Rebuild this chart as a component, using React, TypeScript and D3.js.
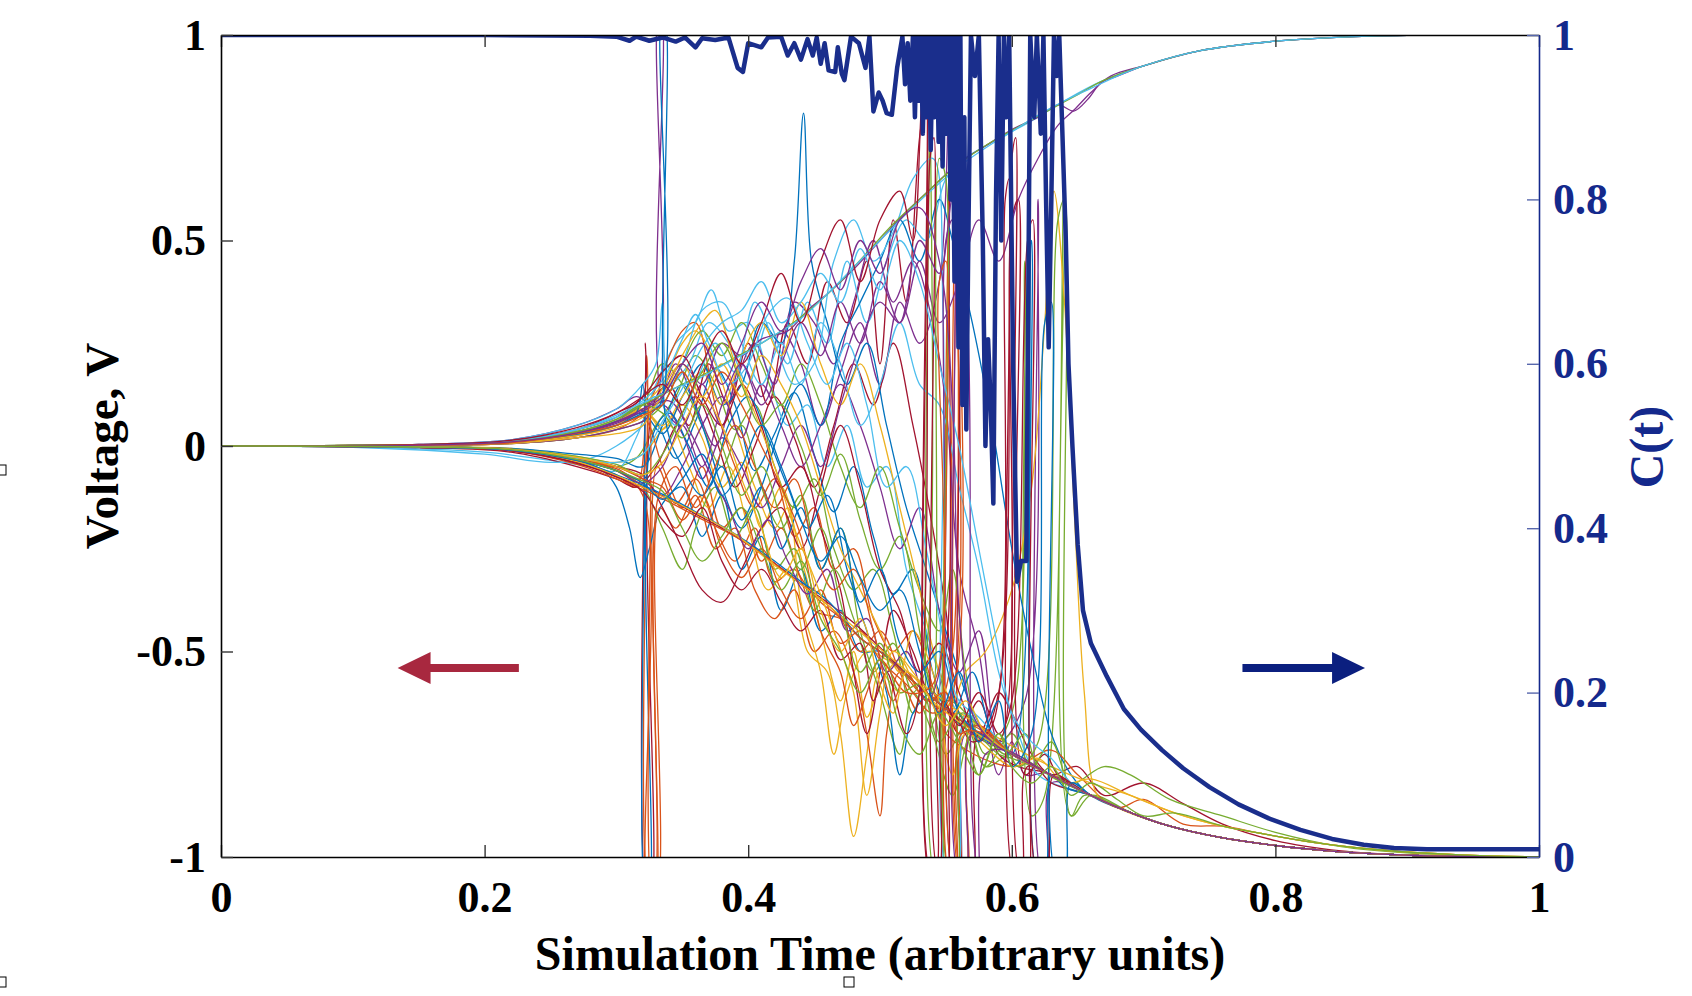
import React, { useEffect, useRef } from 'react';
import * as d3 from 'd3';

type Pt = [number, number];

// ticks
const voltTicks = [-1, -0.5, 0, 0.5, 1];
const cTicks = [0, 0.2, 0.4, 0.6, 0.8, 1];
const timeTicks = [0, 0.2, 0.4, 0.6, 0.8, 1];

// coherence C(t), right axis
const coherence: Pt[] = [
  [0, 1], [0.2, 1], [0.28, 0.999], [0.3, 0.998], [0.31, 0.993], [0.315, 0.998], [0.325, 0.993],
  [0.335, 0.997], [0.345, 0.992], [0.352, 0.997], [0.36, 0.985], [0.365, 0.996], [0.375, 0.994],
  [0.385, 0.997], [0.392, 0.96], [0.396, 0.955], [0.4, 0.99], [0.41, 0.985], [0.415, 0.997],
  [0.425, 0.998], [0.43, 0.975], [0.435, 0.99], [0.44, 0.97], [0.445, 0.995], [0.449, 0.975],
  [0.452, 0.997], [0.455, 0.965], [0.458, 0.99], [0.461, 0.957], [0.466, 0.955], [0.468, 0.985],
  [0.471, 0.953], [0.473, 0.945], [0.478, 0.998], [0.484, 0.99], [0.489, 0.96], [0.492, 0.998],
  [0.495, 0.907], [0.499, 0.93], [0.502, 0.92], [0.505, 0.905], [0.509, 0.903], [0.513, 0.96],
  [0.517, 0.998], [0.519, 0.94], [0.521, 0.99], [0.523, 0.92], [0.525, 1], [0.5265, 0.9], [0.528, 1],
  [0.5295, 0.92], [0.531, 1], [0.5325, 0.88], [0.534, 1], [0.5355, 0.9], [0.537, 1], [0.5385, 0.86],
  [0.54, 1], [0.5415, 0.9], [0.543, 1], [0.5445, 0.87], [0.546, 1], [0.5475, 0.84], [0.549, 1],
  [0.5505, 0.88], [0.552, 1], [0.5535, 0.8], [0.555, 1], [0.5565, 0.7], [0.558, 1], [0.5595, 0.62],
  [0.561, 1], [0.5625, 0.55], [0.564, 0.9], [0.5655, 0.52], [0.567, 0.75], [0.569, 1],
  [0.572, 0.95], [0.575, 1], [0.578, 0.75], [0.58, 0.5], [0.582, 0.63], [0.584, 0.55], [0.586, 0.43],
  [0.588, 0.8], [0.59, 1], [0.592, 0.75], [0.594, 1], [0.596, 0.9], [0.598, 1], [0.601, 0.6],
  [0.604, 0.335], [0.607, 0.36], [0.611, 0.36], [0.614, 1], [0.617, 0.9], [0.619, 1], [0.622, 0.88],
  [0.624, 1], [0.626, 0.8], [0.628, 0.62], [0.63, 0.8], [0.632, 1], [0.634, 0.95], [0.636, 1],
  [0.638, 0.9], [0.641, 0.75], [0.643, 0.6], [0.646, 0.5], [0.65, 0.38], [0.654, 0.3], [0.66, 0.26],
  [0.672, 0.22], [0.685, 0.18], [0.698, 0.155], [0.714, 0.13], [0.73, 0.108], [0.75, 0.085],
  [0.772, 0.064], [0.795, 0.047], [0.819, 0.033], [0.843, 0.022], [0.867, 0.015], [0.89, 0.011],
  [0.915, 0.0095], [1, 0.0095]
];

// branches the runs settle onto
const upperBranch: Pt[] = [
  [0.2, 0.005], [0.25, 0.02], [0.28, 0.045], [0.3, 0.07], [0.333, 0.12], [0.36, 0.165], [0.389, 0.21],
  [0.41, 0.255], [0.439, 0.31], [0.465, 0.385], [0.49, 0.47], [0.51, 0.54], [0.53, 0.6], [0.548, 0.655],
  [0.58, 0.73], [0.616, 0.793], [0.64, 0.84], [0.667, 0.886], [0.7, 0.925], [0.743, 0.962], [0.8, 0.985],
  [0.85, 0.995], [0.9, 0.999], [1, 1]
];
const lowerBranch: Pt[] = [
  [0.2, -0.005], [0.25, -0.025], [0.28, -0.05], [0.3, -0.075], [0.323, -0.105], [0.333, -0.12],
  [0.36, -0.16], [0.389, -0.21], [0.405, -0.25], [0.439, -0.334], [0.465, -0.4], [0.486, -0.47],
  [0.5, -0.5], [0.528, -0.58], [0.564, -0.674], [0.6, -0.75], [0.627, -0.796], [0.66, -0.85],
  [0.691, -0.893], [0.72, -0.925], [0.756, -0.951], [0.8, -0.972], [0.84, -0.985], [0.88, -0.993],
  [0.93, -0.998], [1, -1]
];
const lowerSlow: Pt[] = [
  [0.66, -0.81], [0.69, -0.85], [0.724, -0.893], [0.76, -0.925], [0.788, -0.942], [0.83, -0.965],
  [0.88, -0.983], [0.94, -0.995], [1, -1]
];

// individual voltage runs (t, V)
const voltageRuns: Pt[][] = [
  [[0,0],[0.15,0.003],[0.22,0.01],[0.27,0.035],[0.3,0.06],[0.315,0.09],[0.33,0.06],[0.345,-0.03],[0.36,0.06],[0.375,0.19],[0.39,0.1],[0.405,-0.06],[0.42,0.03],[0.435,0.13],[0.45,-0.02],[0.465,-0.16],[0.48,-0.05],[0.495,-0.22],[0.51,-0.36],[0.525,-0.3],[0.54,-0.55],[0.555,-0.66]],
  [[0,0],[0.15,-0.003],[0.22,-0.012],[0.27,-0.04],[0.3,-0.07],[0.315,-0.1],[0.323,0.22],[0.325,-1.1],[0.328,-1.1],[0.331,-0.05],[0.345,-0.14],[0.36,-0.08],[0.375,-0.2],[0.39,-0.28],[0.405,-0.2],[0.42,-0.33],[0.435,-0.3],[0.45,-0.4],[0.47,-0.42]],
  [[0,0],[0.15,0.002],[0.22,0.008],[0.27,0.025],[0.3,0.05],[0.32,0.09],[0.335,0.04],[0.35,0.1],[0.365,0.02],[0.38,-0.1],[0.395,-0.04],[0.41,-0.2],[0.425,-0.1],[0.44,-0.27],[0.455,-0.45],[0.47,-0.62],[0.48,-0.5],[0.49,-0.66],[0.5,-0.58],[0.515,-0.52],[0.53,-0.6]],
  [[0,0],[0.15,0.002],[0.22,0.01],[0.27,0.03],[0.3,0.06],[0.32,0.1],[0.3305,0.12],[0.332,1.05],[0.334,1.05],[0.3355,0.1],[0.35,0.05],[0.365,0.15],[0.38,0.05],[0.395,0.2],[0.41,0.12],[0.425,0.28],[0.44,0.2],[0.455,0.05],[0.47,0.18],[0.485,0.3],[0.5,0.15],[0.515,0.35],[0.53,0.25],[0.545,0.4],[0.553,0.9],[0.556,-1.05],[0.56,-1.05],[0.565,-0.7],[0.58,-0.72]],
  [[0,0],[0.15,-0.002],[0.22,-0.008],[0.27,-0.03],[0.3,-0.05],[0.315,-0.03],[0.33,0.05],[0.345,0.12],[0.36,0.22],[0.375,0.15],[0.39,0.04],[0.405,0.1],[0.42,-0.05],[0.435,-0.15],[0.45,-0.08],[0.465,-0.25],[0.48,-0.35],[0.495,-0.3],[0.51,-0.45],[0.525,-0.65],[0.535,-0.55],[0.55,-0.75],[0.565,-0.68],[0.58,-0.78],[0.6,-0.75]],
  [[0,0],[0.1,-0.002],[0.2,-0.015],[0.25,-0.035],[0.28,-0.05],[0.3,-0.06],[0.315,0.02],[0.33,0.15],[0.345,0.25],[0.36,0.3],[0.372,0.38],[0.385,0.28],[0.4,0.3],[0.415,0.18],[0.43,0.05],[0.445,0.1],[0.46,-0.05],[0.475,0.05],[0.49,-0.1],[0.505,-0.05],[0.52,-0.3],[0.535,-0.45],[0.55,-0.6],[0.565,-0.67]],
  [[0,0],[0.15,0.003],[0.22,0.012],[0.27,0.04],[0.3,0.08],[0.32,0.12],[0.322,0.25],[0.3235,-1.1],[0.326,-1.1],[0.328,0.1],[0.34,0.15],[0.355,0.05],[0.37,0.2],[0.385,0.1],[0.4,0.25],[0.415,0.1],[0.43,0.3],[0.445,0.2],[0.46,0.4],[0.475,0.3],[0.49,0.45],[0.5,0.2],[0.51,0.55],[0.52,0.35],[0.53,0.75],[0.535,0.85],[0.538,-1.05],[0.542,-1.05],[0.545,-0.6],[0.56,-0.7],[0.575,-0.62],[0.59,-0.75],[0.605,-0.78]],
  [[0,0],[0.15,-0.003],[0.22,-0.01],[0.27,-0.035],[0.29,-0.06],[0.3,-0.1],[0.31,-0.2],[0.318,-0.32],[0.325,-0.25],[0.335,-0.14],[0.35,-0.1],[0.365,-0.22],[0.38,-0.12],[0.395,-0.3],[0.41,-0.22],[0.425,-0.4],[0.44,-0.3],[0.455,-0.45],[0.47,-0.4],[0.485,-0.5]],
  [[0,0],[0.15,0.002],[0.22,0.006],[0.27,0.02],[0.3,0.04],[0.32,0.08],[0.335,0.18],[0.35,0.28],[0.36,0.3],[0.375,0.1],[0.39,-0.05],[0.405,-0.15],[0.42,-0.08],[0.435,-0.22],[0.45,-0.15],[0.465,-0.3],[0.48,-0.25],[0.495,-0.42],[0.51,-0.5],[0.525,-0.45],[0.545,-0.62],[0.555,-0.5],[0.558,0.9],[0.561,-1.05],[0.565,-1.05],[0.57,-0.68]],
  [[0,0],[0.15,-0.002],[0.22,-0.006],[0.27,-0.025],[0.3,-0.04],[0.32,-0.02],[0.34,0.05],[0.355,-0.05],[0.37,-0.15],[0.385,-0.05],[0.4,-0.2],[0.415,-0.35],[0.43,-0.3],[0.445,-0.5],[0.46,-0.55],[0.47,-0.7],[0.48,-0.95],[0.49,-0.75],[0.5,-0.55],[0.515,-0.6],[0.53,-0.58]],
  [[0,0],[0.15,0.004],[0.22,0.015],[0.27,0.05],[0.3,0.09],[0.315,0.12],[0.33,0.1],[0.345,0.2],[0.36,0.1],[0.375,0],[0.39,0.15],[0.405,0.25],[0.42,0.15],[0.435,0.35],[0.45,0.3],[0.465,0.2],[0.48,0.35],[0.495,0.5],[0.51,0.35],[0.525,0.45],[0.54,0.3],[0.55,0.1],[0.56,-0.3],[0.575,-0.5],[0.59,-0.8],[0.6,-0.72],[0.61,-0.8]],
  [[0,0],[0.15,0.003],[0.22,0.01],[0.27,0.03],[0.3,0.06],[0.32,0.1],[0.335,0.2],[0.35,0.15],[0.365,0.05],[0.38,-0.05],[0.395,0.05],[0.41,-0.1],[0.425,-0.2],[0.44,-0.12],[0.455,-0.3],[0.47,-0.2],[0.485,-0.45],[0.5,-0.6],[0.515,-0.75],[0.525,-0.6],[0.54,-0.7],[0.555,-0.85],[0.57,-0.7],[0.59,-0.75],[0.6,-0.76]],
  [[0,0],[0.15,0.004],[0.22,0.015],[0.27,0.05],[0.3,0.09],[0.32,0.15],[0.33,0.2],[0.335,0.35],[0.34,0.15],[0.355,0.2],[0.37,0.3],[0.385,0.25],[0.4,0.15],[0.415,0.3],[0.43,0.2],[0.445,0.35],[0.46,0.25],[0.475,0.45],[0.49,0.3],[0.505,0.45],[0.52,0.55],[0.535,0.5],[0.55,0.65],[0.565,0.7],[0.58,0.73]],
  [[0,0],[0.15,-0.004],[0.22,-0.015],[0.27,-0.05],[0.3,-0.08],[0.315,-0.1],[0.33,-0.05],[0.345,0.05],[0.36,0.12],[0.375,0.02],[0.39,-0.1],[0.405,0],[0.42,0.12],[0.435,0.02],[0.45,-0.1],[0.465,0.05],[0.48,0.2],[0.495,0.1],[0.51,0.25],[0.525,0.05],[0.54,-0.2],[0.55,-0.4],[0.56,-0.65],[0.575,-0.7],[0.59,-0.6],[0.6,-0.65],[0.615,-0.75],[0.63,-0.8],[0.65,-0.78],[0.67,-0.85],[0.7,-0.82],[0.73,-0.87],[0.76,-0.92],[0.8,-0.96],[0.85,-0.985],[0.9,-0.995],[1,-1]],
  [[0,0],[0.15,0.002],[0.22,0.008],[0.27,0.03],[0.3,0.05],[0.32,0.08],[0.335,0.03],[0.35,0.12],[0.365,0.2],[0.38,0.1],[0.395,0.15],[0.41,0.3],[0.425,0.25],[0.435,0.45],[0.442,0.81],[0.448,0.45],[0.46,0.3],[0.475,0.15],[0.49,0.25],[0.505,0.05],[0.52,-0.15],[0.535,-0.3],[0.55,-0.45],[0.565,-0.6],[0.58,-0.7]],
  [[0,0],[0.15,-0.003],[0.22,-0.01],[0.27,-0.03],[0.3,-0.06],[0.32,-0.12],[0.325,-1.1],[0.33,-1.1],[0.333,-0.15],[0.345,-0.2],[0.36,-0.12],[0.375,-0.25],[0.39,-0.2],[0.405,-0.35],[0.42,-0.42],[0.435,-0.35],[0.45,-0.5],[0.465,-0.45],[0.48,-0.55],[0.49,-0.7],[0.5,-0.9],[0.505,-0.7],[0.515,-0.55],[0.53,-0.6],[0.55,-0.64],[0.553,0.85],[0.556,-1.05],[0.56,-1.05],[0.565,-0.68]],
  [[0,0],[0.15,0.003],[0.22,0.01],[0.27,0.035],[0.3,0.06],[0.32,0.1],[0.335,0.15],[0.35,0.25],[0.36,0.28],[0.375,0.2],[0.39,0.05],[0.405,-0.1],[0.42,-0.2],[0.43,-0.15],[0.44,-0.38],[0.455,-0.55],[0.465,-0.75],[0.475,-0.6],[0.49,-0.5],[0.505,-0.52]],
  [[0,0],[0.15,-0.002],[0.22,-0.008],[0.27,-0.03],[0.3,-0.05],[0.32,-0.08],[0.335,-0.12],[0.35,-0.05],[0.365,0.05],[0.38,0.12],[0.395,0.02],[0.41,0.15],[0.425,0.05],[0.44,-0.05],[0.455,0.05],[0.47,0.15],[0.485,0.05],[0.5,-0.1],[0.515,-0.25],[0.53,-0.15],[0.545,-0.4],[0.56,-0.55],[0.575,-0.45],[0.59,-0.72],[0.61,-0.62],[0.62,0.6],[0.623,-1.05],[0.627,-1.05],[0.63,-0.82]],
  [[0,0],[0.15,0.002],[0.22,0.006],[0.27,0.02],[0.3,0.04],[0.32,0.06],[0.335,0.1],[0.35,0.2],[0.365,0.28],[0.38,0.22],[0.395,0.3],[0.41,0.2],[0.425,0.1],[0.44,0.2],[0.455,0.1],[0.47,-0.05],[0.485,-0.15],[0.5,-0.05],[0.515,-0.2],[0.53,-0.35],[0.545,-0.45],[0.555,-0.3],[0.565,-0.55],[0.58,-0.75],[0.6,-0.65],[0.61,0.45],[0.615,-0.9],[0.625,-0.85],[0.64,0.65],[0.645,-0.9],[0.66,-0.85]],
  [[0,0],[0.1,-0.003],[0.2,-0.02],[0.25,-0.04],[0.28,-0.03],[0.3,0],[0.32,0.05],[0.335,0.12],[0.35,0.2],[0.365,0.33],[0.38,0.35],[0.395,0.25],[0.41,0.15],[0.425,0.25],[0.44,0.15],[0.455,0.3],[0.47,0.2],[0.485,0.05],[0.5,0.15],[0.515,0.3],[0.53,0.15],[0.545,0.1],[0.56,-0.1],[0.575,-0.3],[0.59,-0.55],[0.605,-0.7],[0.62,-0.8]],
  [[0,0],[0.15,0.003],[0.22,0.012],[0.27,0.04],[0.3,0.07],[0.32,0.12],[0.335,0.18],[0.35,0.22],[0.365,0.12],[0.38,0.05],[0.395,0.15],[0.41,0.05],[0.425,-0.1],[0.44,-0.05],[0.455,-0.2],[0.47,-0.35],[0.48,-0.55],[0.49,-0.7],[0.5,-0.55],[0.51,-0.4],[0.525,-0.5],[0.54,-0.62],[0.55,-0.5],[0.555,0.75],[0.56,0.8],[0.565,-1.05],[0.57,-1.05],[0.575,-0.7],[0.59,-0.72],[0.6,0.55],[0.605,0.6],[0.61,-0.8],[0.625,-0.75],[0.635,-0.8]],
  [[0,0],[0.15,-0.002],[0.22,-0.006],[0.27,-0.02],[0.3,-0.03],[0.32,-0.05],[0.335,0.05],[0.35,0.15],[0.365,0.05],[0.38,-0.1],[0.395,-0.2],[0.41,-0.1],[0.425,0.05],[0.44,0.15],[0.455,0.05],[0.47,0.25],[0.485,0.35],[0.5,0.45],[0.515,0.55],[0.53,0.45],[0.545,0.6],[0.555,0.5],[0.57,0.3],[0.585,0.05],[0.6,-0.25],[0.615,-0.5],[0.63,-0.7],[0.645,-0.8],[0.66,-0.85]],
  [[0,0],[0.15,0.002],[0.22,0.008],[0.27,0.025],[0.3,0.05],[0.32,0.07],[0.335,-0.05],[0.35,-0.15],[0.365,-0.05],[0.38,-0.2],[0.395,-0.15],[0.41,-0.28],[0.425,-0.2],[0.44,-0.32],[0.455,-0.38],[0.47,-0.42],[0.485,-0.5],[0.5,-0.45],[0.515,-0.55],[0.53,-0.65],[0.54,-0.6],[0.55,-0.7],[0.6,-0.78],[0.63,-0.74],[0.65,-0.8],[0.68,-0.88],[0.7,-0.86],[0.73,-0.92]],
  [[0,0],[0.15,0.003],[0.22,0.01],[0.27,0.03],[0.3,0.05],[0.32,0.09],[0.335,0.05],[0.35,0.12],[0.365,0.18],[0.38,0.1],[0.395,0.22],[0.41,0.3],[0.425,0.22],[0.44,0.35],[0.455,0.2],[0.47,0.1],[0.485,0.2],[0.5,0.05],[0.515,-0.15],[0.53,-0.35],[0.545,-0.55],[0.555,-0.62],[0.565,-0.55],[0.58,-0.5],[0.6,-0.35],[0.615,-0.1],[0.625,0.3],[0.632,0.62],[0.64,0.35],[0.648,-0.2],[0.655,-0.6],[0.665,-0.85],[0.68,-0.88]],
  [[0,0],[0.15,0.002],[0.22,0.006],[0.27,0.02],[0.3,0.04],[0.32,0.06],[0.335,0.1],[0.35,0.03],[0.365,-0.08],[0.38,0.02],[0.395,-0.05],[0.41,-0.15],[0.425,-0.05],[0.44,0.05],[0.455,-0.05],[0.47,0.1],[0.485,0.25],[0.5,0.35],[0.515,0.3],[0.53,0.45],[0.545,0.3],[0.56,0.4],[0.575,0.55],[0.59,0.45],[0.605,0.6],[0.62,0.7],[0.635,0.78],[0.648,0.82],[0.66,0.86],[0.675,0.9]],
  [[0,0],[0.15,-0.003],[0.22,-0.01],[0.27,-0.035],[0.3,-0.06],[0.32,-0.1],[0.335,-0.2],[0.35,-0.3],[0.36,-0.2],[0.375,-0.1],[0.39,-0.22],[0.405,-0.15],[0.42,-0.3],[0.435,-0.25],[0.45,-0.4],[0.465,-0.3],[0.48,-0.42],[0.495,-0.55],[0.51,-0.48],[0.525,-0.6],[0.535,-0.5],[0.538,0.9],[0.542,-1.05],[0.546,-1.05],[0.55,-0.62],[0.565,-0.65],[0.58,-0.78],[0.6,-0.7],[0.615,-0.78],[0.63,-0.72],[0.645,-0.82],[0.67,-0.78],[0.69,-0.8],[0.72,-0.86],[0.76,-0.9],[0.8,-0.94],[0.85,-0.975],[0.9,-0.99],[1,-1]],
  [[0,0],[0.15,0.003],[0.22,0.012],[0.27,0.04],[0.3,0.07],[0.32,0.1],[0.33,0.12],[0.345,0.05],[0.36,0.15],[0.375,0.25],[0.39,0.18],[0.405,0.35],[0.42,0.25],[0.435,0.15],[0.45,0.2],[0.465,0.45],[0.48,0.55],[0.495,0.45],[0.51,0.52],[0.525,0.65],[0.54,0.7],[0.548,0.3],[0.552,-1.05],[0.558,-1.05],[0.565,-0.65],[0.58,-0.7]],
  [[0,0],[0.15,-0.002],[0.22,-0.008],[0.27,-0.03],[0.3,-0.05],[0.32,-0.07],[0.335,-0.15],[0.35,-0.25],[0.365,-0.35],[0.38,-0.38],[0.395,-0.3],[0.41,-0.2],[0.425,-0.15],[0.44,-0.25],[0.455,-0.1],[0.47,0.05],[0.485,-0.1],[0.5,-0.3],[0.515,-0.4],[0.53,-0.55],[0.545,-0.48],[0.56,-0.6],[0.575,-0.72],[0.59,-0.6],[0.6,0.7],[0.603,0.75],[0.607,-1.05],[0.612,-1.05],[0.617,-0.78],[0.63,-0.82]],
  [[0,0],[0.15,0.003],[0.22,0.01],[0.27,0.03],[0.3,0.06],[0.315,0.08],[0.32,0.15],[0.3225,-1.1],[0.3245,-1.1],[0.327,0.02],[0.34,0.08],[0.355,0],[0.37,-0.1],[0.385,0.05],[0.4,0.12],[0.415,0.02],[0.43,-0.1],[0.445,-0.2],[0.46,-0.12],[0.475,-0.3],[0.49,-0.45],[0.505,-0.6],[0.515,-0.8],[0.525,-0.65],[0.54,-0.6],[0.555,-0.65],[0.57,-0.55],[0.585,-0.7],[0.6,-0.75],[0.615,0.5],[0.62,-1.05],[0.625,-1.05],[0.63,-0.8],[0.64,-0.83]],
  [[0,0],[0.15,-0.003],[0.22,-0.01],[0.27,-0.03],[0.3,-0.05],[0.32,-0.08],[0.335,-0.1],[0.35,-0.18],[0.365,-0.12],[0.38,-0.25],[0.395,-0.32],[0.41,-0.25],[0.425,-0.35],[0.44,-0.42],[0.455,-0.35],[0.47,-0.48],[0.485,-0.45],[0.5,-0.52],[0.52,-0.58],[0.54,-0.65],[0.555,-0.6],[0.558,0.6],[0.562,-1.05],[0.566,-1.05],[0.57,-0.7]],
  [[0,0],[0.15,0.002],[0.22,0.006],[0.27,0.02],[0.3,0.03],[0.32,0.05],[0.335,0.14],[0.35,0.2],[0.365,0.12],[0.38,0.2],[0.395,0.12],[0.41,0.22],[0.425,0.15],[0.44,0.05],[0.455,-0.1],[0.47,-0.25],[0.485,-0.35],[0.5,-0.45],[0.515,-0.55],[0.525,-0.45],[0.54,-0.55],[0.555,-0.8],[0.565,-0.7],[0.6,-0.78],[0.62,-0.76],[0.64,-0.82]],
  [[0,0],[0.15,0.002],[0.22,0.008],[0.27,0.03],[0.3,0.06],[0.32,0.09],[0.335,0.13],[0.35,0.2],[0.365,0.15],[0.38,0.25],[0.395,0.22],[0.41,0.26],[0.43,0.28],[0.445,0.33],[0.46,0.37],[0.48,0.43],[0.5,0.5],[0.52,0.57],[0.54,0.63],[0.56,0.69],[0.58,0.73],[0.6,0.77],[0.62,0.8],[0.635,0.83],[0.647,0.815],[0.658,0.845],[0.668,0.885],[0.68,0.9]],
  [[0,0],[0.15,0.003],[0.22,0.01],[0.27,0.035],[0.3,0.065],[0.32,0.1],[0.335,0.125],[0.35,0.15],[0.37,0.18],[0.39,0.215],[0.41,0.25],[0.43,0.29],[0.45,0.34],[0.47,0.4],[0.49,0.47],[0.51,0.54],[0.53,0.6],[0.55,0.66],[0.57,0.71],[0.59,0.75],[0.61,0.785],[0.63,0.82],[0.65,0.855],[0.67,0.89]],
  [[0,0],[0.15,0.003],[0.22,0.011],[0.27,0.04],[0.3,0.07],[0.32,0.105],[0.34,0.135],[0.36,0.16],[0.38,0.195],[0.4,0.23],[0.42,0.27],[0.44,0.31],[0.46,0.37],[0.48,0.435],[0.5,0.5],[0.52,0.565],[0.54,0.625],[0.56,0.68],[0.58,0.725],[0.6,0.765],[0.62,0.805],[0.64,0.84],[0.66,0.87],[0.68,0.9]],
  [[0,0],[0.15,-0.003],[0.22,-0.011],[0.27,-0.04],[0.3,-0.075],[0.32,-0.1],[0.34,-0.13],[0.36,-0.165],[0.38,-0.2],[0.4,-0.24],[0.42,-0.285],[0.44,-0.335],[0.46,-0.38],[0.48,-0.43],[0.5,-0.49]],
  [[0,0],[0.15,-0.002],[0.22,-0.009],[0.27,-0.035],[0.3,-0.07],[0.32,-0.095],[0.34,-0.125],[0.36,-0.16],[0.38,-0.195],[0.4,-0.235],[0.42,-0.28],[0.44,-0.33],[0.46,-0.375]],
  [[0,0],[0.15,-0.003],[0.22,-0.012],[0.27,-0.045],[0.3,-0.08],[0.33,-0.12],[0.36,-0.17],[0.39,-0.22]],
  [[0,0],[0.15,-0.002],[0.22,-0.01],[0.27,-0.038],[0.3,-0.072],[0.33,-0.115],[0.36,-0.162],[0.39,-0.215],[0.42,-0.29],[0.45,-0.36],[0.48,-0.44],[0.51,-0.52],[0.54,-0.6],[0.57,-0.67],[0.6,-0.73],[0.63,-0.78],[0.66,-0.82]],
  [[0,0],[0.15,0.002],[0.22,0.009],[0.27,0.03],[0.3,0.055],[0.32,0.085],[0.34,0.11],[0.355,0.04],[0.37,-0.06],[0.385,-0.15],[0.4,-0.25],[0.415,-0.18],[0.43,-0.28],[0.445,-0.36],[0.46,-0.3],[0.475,-0.45],[0.49,-0.42],[0.505,-0.55],[0.52,-0.5],[0.535,-0.62],[0.545,-0.55],[0.55,0.5],[0.555,0.55],[0.56,-1.05],[0.565,-1.05],[0.57,-0.7]],
  [[0,0],[0.15,-0.002],[0.22,-0.007],[0.27,-0.025],[0.3,-0.045],[0.32,-0.07],[0.335,-0.02],[0.35,0.08],[0.365,0.18],[0.38,0.25],[0.395,0.15],[0.41,0.05],[0.425,0.1],[0.44,0],[0.455,-0.12],[0.47,-0.02],[0.485,-0.18],[0.5,-0.3],[0.515,-0.22],[0.53,-0.45],[0.54,-0.6],[0.545,0.7],[0.55,0.65],[0.553,-1.05],[0.558,-1.05],[0.562,-0.65],[0.58,-0.7],[0.595,-0.75],[0.61,-0.7],[0.62,-0.78]],
  [[0,0],[0.15,0.003],[0.22,0.012],[0.27,0.04],[0.3,0.075],[0.32,0.11],[0.335,0.16],[0.35,0.26],[0.36,0.32],[0.37,0.25],[0.385,0.15],[0.4,0.2],[0.415,0.32],[0.43,0.36],[0.445,0.25],[0.46,0.15],[0.475,0.25],[0.49,0.1],[0.505,-0.1],[0.52,-0.05],[0.535,-0.25],[0.55,-0.5],[0.56,-0.62],[0.575,-0.66]],
  [[0,0],[0.15,-0.003],[0.22,-0.012],[0.27,-0.042],[0.3,-0.075],[0.32,-0.11],[0.335,-0.18],[0.35,-0.22],[0.365,-0.15],[0.38,-0.28],[0.395,-0.35],[0.41,-0.3],[0.425,-0.38],[0.44,-0.45],[0.455,-0.4],[0.47,-0.52],[0.485,-0.48],[0.495,-0.62],[0.505,-0.55],[0.52,-0.7],[0.53,-0.6],[0.538,0.7],[0.541,0.75],[0.545,-1.05],[0.55,-1.05],[0.555,-0.65],[0.57,-0.72],[0.585,-0.68],[0.595,0.6],[0.598,0.65],[0.602,-1.05],[0.607,-1.05],[0.612,-0.78],[0.63,-0.8]],
  [[0,0],[0.15,0.002],[0.22,0.008],[0.27,0.028],[0.3,0.05],[0.32,0.08],[0.333,0.1],[0.3345,1.05],[0.3365,1.05],[0.338,0.05],[0.35,-0.05],[0.365,-0.12],[0.38,-0.05],[0.395,-0.18],[0.41,-0.1],[0.425,-0.25],[0.44,-0.15],[0.455,-0.3],[0.47,-0.2],[0.485,-0.38],[0.5,-0.3],[0.515,-0.48],[0.53,-0.55],[0.545,-0.5],[0.56,-0.65],[0.575,-0.7]],
  [[0,0],[0.15,-0.002],[0.22,-0.008],[0.27,-0.03],[0.3,-0.055],[0.318,-0.08],[0.325,0.1],[0.3275,-1.1],[0.3295,-1.1],[0.332,-0.12],[0.345,-0.05],[0.36,-0.15],[0.375,-0.05],[0.39,0.05],[0.405,-0.05],[0.42,-0.15],[0.435,-0.08],[0.45,-0.25],[0.465,-0.35],[0.48,-0.3],[0.495,-0.45],[0.51,-0.62],[0.52,-0.55],[0.535,-0.62],[0.55,-0.6],[0.56,-0.7],[0.575,-0.68]],
  [[0,0],[0.15,0.002],[0.22,0.007],[0.27,0.025],[0.3,0.045],[0.32,0.07],[0.335,0.12],[0.35,0.22],[0.365,0.3],[0.375,0.33],[0.39,0.2],[0.405,0.08],[0.42,-0.05],[0.435,-0.2],[0.45,-0.32],[0.465,-0.45],[0.48,-0.6],[0.49,-0.85],[0.5,-0.65],[0.51,-0.5],[0.525,-0.55],[0.54,-0.62],[0.555,-0.66]],
  [[0,0],[0.15,-0.003],[0.22,-0.01],[0.27,-0.035],[0.3,-0.06],[0.32,-0.09],[0.335,-0.05],[0.35,0.05],[0.365,-0.05],[0.38,0.1],[0.395,0.2],[0.41,0.1],[0.425,0.2],[0.44,0.3],[0.455,0.22],[0.47,0.35],[0.485,0.25],[0.5,0.4],[0.515,0.3],[0.53,0.5],[0.545,0.42],[0.555,0.6],[0.565,0.4],[0.57,-0.9],[0.575,-1.05],[0.58,-0.75],[0.595,-0.74]],
  [[0,0],[0.15,0.003],[0.22,0.01],[0.27,0.035],[0.3,0.065],[0.32,0.1],[0.335,0.08],[0.35,0.02],[0.365,0.1],[0.38,0],[0.395,-0.12],[0.41,-0.05],[0.425,-0.18],[0.44,-0.3],[0.455,-0.2],[0.47,-0.38],[0.485,-0.55],[0.5,-0.48],[0.515,-0.6],[0.53,-0.58],[0.545,-0.72],[0.56,-0.65],[0.575,-0.8],[0.59,-0.7],[0.605,-0.78],[0.62,-0.72],[0.635,0.55],[0.64,0.6],[0.645,-0.9],[0.655,-0.85]],
  [[0,0],[0.15,-0.002],[0.22,-0.009],[0.27,-0.03],[0.3,-0.04],[0.32,-0.02],[0.335,0.06],[0.35,0.14],[0.365,0.24],[0.38,0.3],[0.395,0.33],[0.41,0.4],[0.425,0.3],[0.44,0.35],[0.455,0.42],[0.47,0.35],[0.485,0.48],[0.5,0.38],[0.515,0.5],[0.53,0.4],[0.545,0.2],[0.56,0],[0.575,-0.25],[0.59,-0.5],[0.6,-0.65],[0.615,-0.72],[0.63,-0.76],[0.645,-0.82]],
  [[0,0],[0.15,0.004],[0.22,0.014],[0.27,0.045],[0.3,0.08],[0.32,0.12],[0.335,0.15],[0.35,0.1],[0.365,0.2],[0.38,0.28],[0.395,0.2],[0.41,0.3],[0.425,0.42],[0.44,0.3],[0.455,0.45],[0.47,0.55],[0.485,0.4],[0.5,0.55],[0.515,0.62],[0.525,0.5],[0.532,0.85],[0.535,0.9],[0.539,-1.05],[0.544,-1.05],[0.548,-0.62],[0.56,-0.68],[0.575,-0.6],[0.59,-0.7],[0.6,-0.62],[0.612,0.5],[0.616,0.55],[0.62,-1.05],[0.626,-1.05],[0.632,-0.8],[0.645,-0.82]],
  [[0,0],[0.15,-0.003],[0.22,-0.01],[0.27,-0.035],[0.3,-0.06],[0.32,-0.09],[0.335,-0.13],[0.35,-0.08],[0.365,-0.02],[0.38,-0.12],[0.395,-0.05],[0.41,0.05],[0.425,-0.05],[0.44,-0.18],[0.455,-0.28],[0.47,-0.22],[0.485,-0.32],[0.5,-0.4],[0.515,-0.35],[0.53,-0.5],[0.545,-0.65],[0.56,-0.55],[0.575,-0.72],[0.59,-0.62],[0.6,-0.78],[0.615,-0.7],[0.625,0.3],[0.63,0.35],[0.634,-1.05],[0.64,-1.05],[0.645,-0.82]],
  [[0,0],[0.15,0.002],[0.22,0.008],[0.27,0.03],[0.3,0.05],[0.32,0.075],[0.335,0.1],[0.35,0.18],[0.365,0.1],[0.38,0.18],[0.395,0.1],[0.41,0],[0.425,-0.1],[0.44,-0.22],[0.455,-0.45],[0.47,-0.55],[0.48,-0.68],[0.49,-0.6],[0.5,-0.52],[0.52,-0.6],[0.54,-0.58],[0.545,0.4],[0.55,0.45],[0.553,-1.05],[0.557,-1.05],[0.562,-0.7],[0.58,-0.7]],
  [[0,0],[0.15,-0.002],[0.22,-0.008],[0.27,-0.028],[0.3,-0.05],[0.32,-0.07],[0.335,-0.04],[0.35,0.05],[0.365,0.12],[0.38,0.05],[0.395,-0.08],[0.41,-0.2],[0.425,-0.32],[0.44,-0.25],[0.455,-0.4],[0.47,-0.5],[0.485,-0.42],[0.5,-0.58],[0.51,-0.65],[0.52,-0.55],[0.535,-0.6],[0.55,-0.68],[0.565,-0.62],[0.58,-0.7]],
  [[0,0],[0.15,0.002],[0.22,0.01],[0.27,0.032],[0.3,0.058],[0.32,0.09],[0.335,0.12],[0.35,0.2],[0.365,0.25],[0.38,0.15],[0.395,0.25],[0.41,0.35],[0.425,0.28],[0.44,0.4],[0.455,0.48],[0.47,0.38],[0.485,0.5],[0.5,0.42],[0.515,0.55],[0.53,0.58],[0.545,0.45],[0.555,0.1],[0.56,-0.4],[0.57,-0.65],[0.585,-0.72]],
  [[0,0],[0.15,-0.002],[0.22,-0.009],[0.27,-0.033],[0.3,-0.06],[0.32,-0.085],[0.335,-0.11],[0.35,-0.2],[0.365,-0.28],[0.38,-0.22],[0.395,-0.15],[0.41,-0.25],[0.425,-0.35],[0.44,-0.28],[0.455,-0.42],[0.47,-0.5],[0.485,-0.6],[0.5,-0.52],[0.515,-0.68],[0.53,-0.75],[0.545,-0.65],[0.56,-0.72],[0.575,-0.8],[0.59,-0.7],[0.6,-0.78],[0.615,-0.82],[0.63,-0.78],[0.645,-0.85],[0.66,-0.82],[0.68,-0.86],[0.7,-0.9]]
];

// where each run ends up after its last listed point
const runTails: string[] = [
  'lower', 'lower', 'lower', 'lower', 'lower', 'lower', 'lower', 'lower', 'lower', 'lower',
  'lower', 'lower', 'upper', 'none', 'lower', 'lower', 'lower', 'lower', 'lower', 'lower',
  'lower', 'lower', 'slow', 'lower', 'upper', 'none', 'lower', 'lower', 'lower', 'lower',
  'slow', 'upper', 'upper', 'upper', 'lower', 'lower', 'lower', 'slow',
  'lower', 'lower', 'lower', 'lower', 'lower', 'lower', 'lower', 'lower', 'lower', 'lower',
  'lower', 'lower', 'lower', 'lower', 'lower', 'slow'
];

const palette = ['#0072BD', '#D95319', '#EDB120', '#7E2F8E', '#77AC30', '#4DBEEE', '#A2142F'];

const W = 1692;
const H = 996;
const FONT = '"Liberation Serif", "Times New Roman", serif';
const BLUE = '#14298c';

const App: React.FC = () => {
  const svgRef = useRef<SVGSVGElement>(null);

  useEffect(() => {
    if (!svgRef.current) return;
    const root = d3.select(svgRef.current);
    root.selectAll('*').remove();

    const x = d3.scaleLinear().domain([0, 1]).range([221, 1539]);
    const yV = d3.scaleLinear().domain([-1, 1]).range([857, 35]);
    const yC = d3.scaleLinear().domain([0, 1]).range([857, 35]);

    root.append('rect').attr('width', W).attr('height', H).attr('fill', '#fff');

    root.append('defs').append('clipPath').attr('id', 'plotClip')
      .append('rect')
      .attr('x', x(0)).attr('y', yV(1))
      .attr('width', x(1) - x(0)).attr('height', yV(-1) - yV(1));

    const plot = root.append('g').attr('clip-path', 'url(#plotClip)');

    const tails: Record<string, Pt[]> = { lower: lowerBranch, upper: upperBranch, slow: lowerSlow, none: [] };

    const vLine = d3.line<Pt>()
      .x(d => x(d[0]))
      .y(d => yV(d[1]))
      .curve(d3.curveCatmullRom.alpha(0.5));

    voltageRuns.forEach((run, i) => {
      const lastT = run[run.length - 1][0];
      const tail = (tails[runTails[i]] || []).filter(p => p[0] > lastT + 0.012);
      plot.append('path')
        .attr('d', vLine(run.concat(tail)))
        .attr('fill', 'none')
        .attr('stroke', palette[i % palette.length])
        .attr('stroke-width', 1.3)
        .attr('stroke-linejoin', 'round');
    });

    // C(t) on top
    const cLine = d3.line<Pt>()
      .x(d => x(d[0]))
      .y(d => yC(d[1]));
    plot.append('path')
      .attr('d', cLine(coherence))
      .attr('fill', 'none')
      .attr('stroke', '#1a2e8c')
      .attr('stroke-width', 4.5)
      .attr('stroke-linejoin', 'round');

    const styleText = (g: d3.Selection<SVGGElement, unknown, null, undefined>, color: string) => {
      g.selectAll('text')
        .attr('font-family', FONT)
        .attr('font-weight', 'bold')
        .attr('font-size', 44)
        .attr('fill', color);
      g.select('.domain').attr('stroke', color).attr('stroke-width', 1.6);
      g.selectAll('.tick line').attr('stroke', color === BLUE ? '#5868ad' : '#333').attr('stroke-width', 1.4);
    };

    // axes
    const gBottom = root.append('g').attr('transform', `translate(0,${yV(-1)})`)
      .call(d3.axisBottom(x).tickValues(timeTicks).tickSize(-12).tickSizeOuter(0).tickPadding(24)
        .tickFormat(d => String(d)));
    styleText(gBottom, '#000');

    const gTop = root.append('g').attr('transform', `translate(0,${yV(1)})`)
      .call(d3.axisTop(x).tickValues(timeTicks).tickSize(-12).tickSizeOuter(0).tickFormat(() => ''));
    styleText(gTop, '#000');

    const gLeft = root.append('g').attr('transform', `translate(${x(0)},0)`)
      .call(d3.axisLeft(yV).tickValues(voltTicks).tickSize(-12).tickSizeOuter(0).tickPadding(15)
        .tickFormat(d => String(d)));
    styleText(gLeft, '#000');

    const gRight = root.append('g').attr('transform', `translate(${x(1)},0)`)
      .call(d3.axisRight(yC).tickValues(cTicks).tickSize(-12).tickSizeOuter(0).tickPadding(14)
        .tickFormat(d => String(d)));
    styleText(gRight, BLUE);

    // titles
    root.append('text')
      .attr('x', (x(0) + x(1)) / 2).attr('y', 970)
      .attr('text-anchor', 'middle')
      .attr('font-family', FONT).attr('font-weight', 'bold').attr('font-size', 48)
      .text('Simulation Time (arbitrary units)');

    root.append('text')
      .attr('transform', `translate(118,${yV(0)}) rotate(-90)`)
      .attr('text-anchor', 'middle')
      .attr('font-family', FONT).attr('font-weight', 'bold').attr('font-size', 47)
      .text('Voltage, V');

    root.append('text')
      .attr('transform', `translate(1663,447) rotate(-90)`)
      .attr('text-anchor', 'middle')
      .attr('font-family', FONT).attr('font-weight', 'bold').attr('font-size', 48)
      .attr('fill', BLUE)
      .text('C(t)');

    // arrows pointing to each axis
    const arrow = (tail: number, base: number, tip: number, v: number, color: string) => {
      const yc = yV(v);
      const pts: [number, number][] = [
        [x(tail), yc - 4], [x(base), yc - 4], [x(base), yc - 16], [x(tip), yc],
        [x(base), yc + 16], [x(base), yc + 4], [x(tail), yc + 4]
      ];
      root.append('polygon')
        .attr('points', pts.map(p => p.join(',')).join(' '))
        .attr('fill', color);
    };
    arrow(0.226, 0.159, 0.134, -0.54, '#a8283f');
    arrow(0.775, 0.843, 0.868, -0.54, '#0b1f7f');

    // stray marker boxes from the source figure
    [[-4, 465], [-4, 977], [844, 977]].forEach(([bx, by]) => {
      root.append('rect')
        .attr('x', bx).attr('y', by).attr('width', 10).attr('height', 10)
        .attr('fill', 'none').attr('stroke', '#000').attr('stroke-width', 1);
    });
  }, []);

  return (
    <svg
      ref={svgRef}
      width={W}
      height={H}
      viewBox={`0 0 ${W} ${H}`}
      style={{ position: 'absolute', left: 0, top: 0, display: 'block' }}
    />
  );
};

export default App;
